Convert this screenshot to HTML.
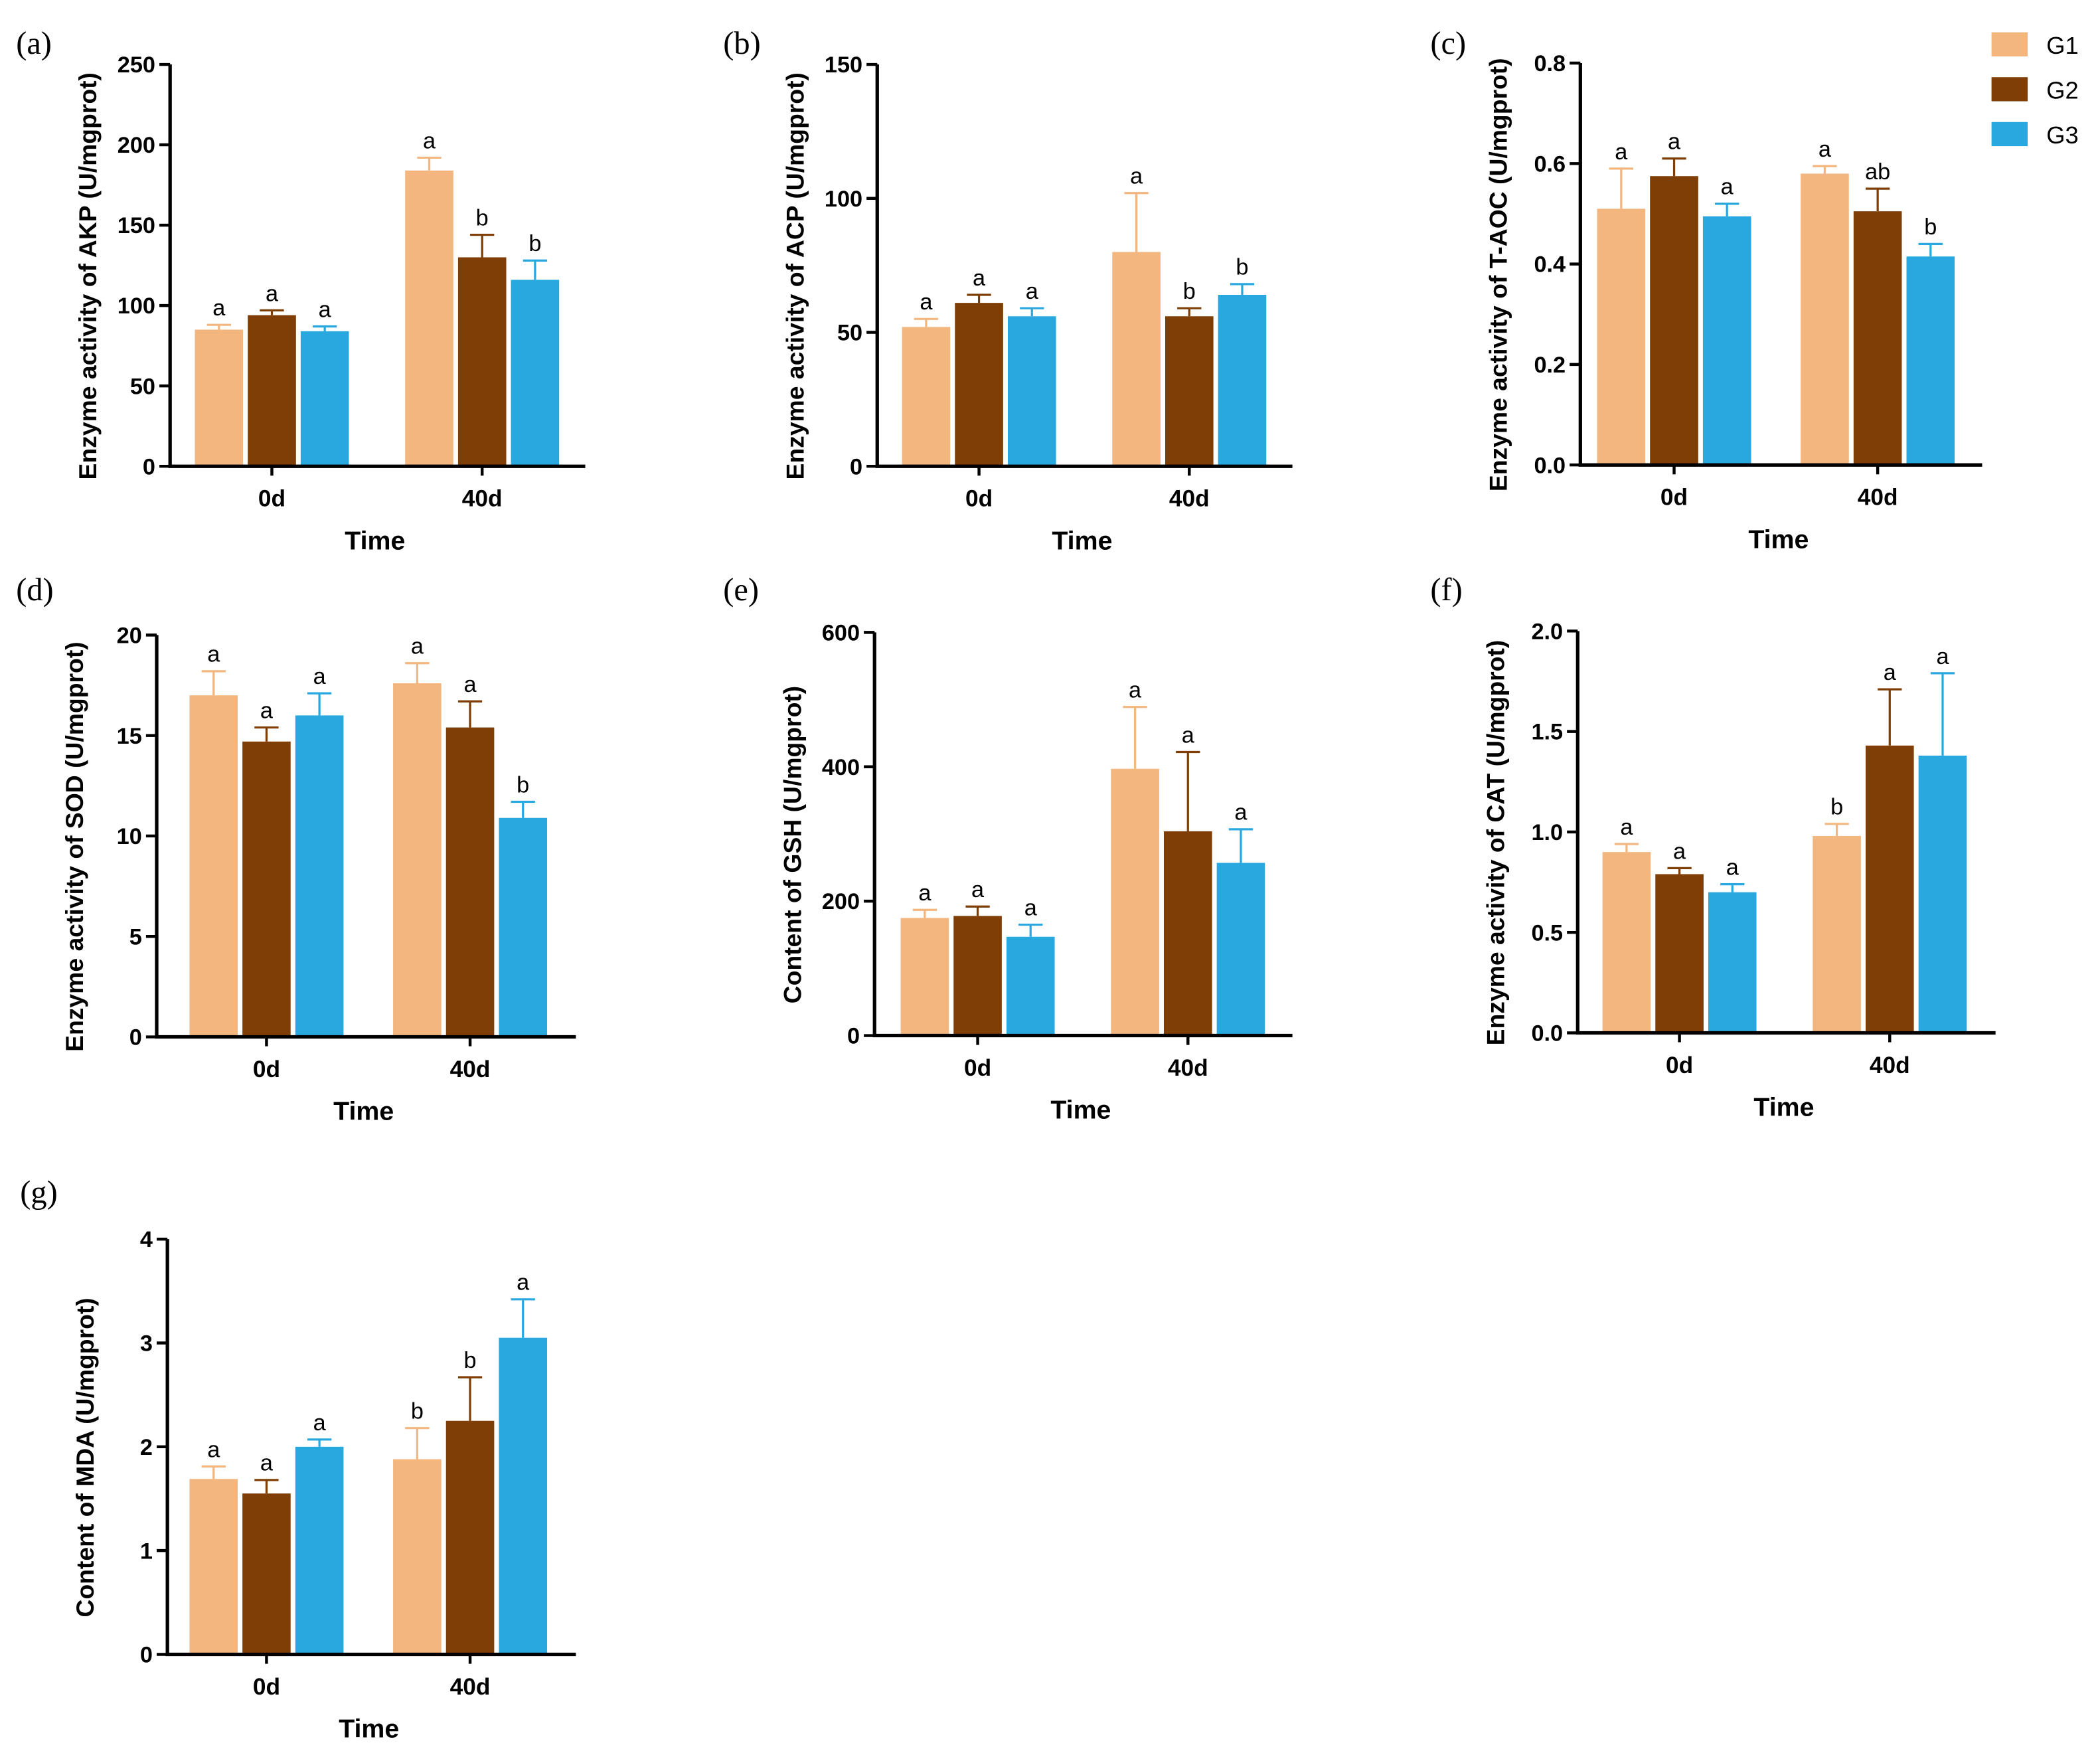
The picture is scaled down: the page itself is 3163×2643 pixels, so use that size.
<!DOCTYPE html>
<html><head><meta charset="utf-8"><style>
html,body{margin:0;padding:0;background:#fff;}
svg{display:block;}
text{font-family:"Liberation Sans",Arial,sans-serif;}
</style></head><body>
<svg id="fig" width="3163" height="2643" viewBox="0 0 1568 1310" xmlns="http://www.w3.org/2000/svg"></svg>
<script>
const categories = ["0d","40d"];
const groups = ["G1","G2","G3"];
const colors = ["#F3B67F","#7F3E06","#29A8E0"];

const valsA = [[85,94,84],[184,130,116]];
const errsA = [[3,3,3],[8,14,12]];
const letA = [["a","a","a"],["a","b","b"]];
const ticksA = [0,50,100,150,200,250];

const valsB = [[52,61,56],[80,56,64]];
const errsB = [[3,3,3],[22,3,4]];
const letB = [["a","a","a"],["a","b","b"]];
const ticksB = [0,50,100,150];

const valsC = [[0.51,0.575,0.495],[0.58,0.505,0.415]];
const errsC = [[0.08,0.035,0.025],[0.015,0.045,0.025]];
const letC = [["a","a","a"],["a","ab","b"]];
const ticksC = [0,0.2,0.4,0.6,0.8];

const valsD = [[17,14.7,16],[17.6,15.4,10.9]];
const errsD = [[1.2,0.7,1.1],[1,1.3,0.8]];
const letD = [["a","a","a"],["a","a","b"]];
const ticksD = [0,5,10,15,20];

const valsE = [[175,178,147],[397,304,257]];
const errsE = [[12,14,18],[92,118,50]];
const letE = [["a","a","a"],["a","a","a"]];
const ticksE = [0,200,400,600];

const valsF = [[0.9,0.79,0.7],[0.98,1.43,1.38]];
const errsF = [[0.04,0.03,0.04],[0.06,0.28,0.41]];
const letF = [["a","a","a"],["b","a","a"]];
const ticksF = [0,0.5,1.0,1.5,2.0];

const valsG = [[1.69,1.55,2.0],[1.88,2.25,3.05]];
const errsG = [[0.12,0.13,0.07],[0.3,0.42,0.37]];
const letG = [["a","a","a"],["b","b","a"]];
const ticksG = [0,1,2,3,4];

const NS="http://www.w3.org/2000/svg";
const svg=document.getElementById('fig');
function mk(tag,attrs,parent,txt){const e=document.createElementNS(NS,tag);for(const k in attrs)e.setAttribute(k,attrs[k]);if(txt!==undefined)e.textContent=txt;(parent||svg).appendChild(e);return e;}

function panel(id,lx,ly,ax,top,bot,xEnd,centers,ymax,ticks,dec,vals,errs,lets,title){
  const g=mk('g',{});
  
  
  const y=v=>bot-(v/ymax)*(bot-top);
  const pl=mk('text',{x:lx,y:ly,'font-size':24,style:'font-family:"Liberation Serif",serif'},g,'('+id+')');
  
  
  vals.forEach((row,ci)=>{
    row.forEach((v,gi)=>{
      const cx=centers[ci]+(gi-1)*39.5;
      const x0=cx-18, yt=y(v), ye=y(v+errs[ci][gi]);
      const r=mk('rect',{x:x0,y:yt,width:36,height:bot-yt,fill:colors[gi]},g);
      
      
      const eb=mk('path',{d:`M${cx} ${yt} V${ye} M${cx-9} ${ye} H${cx+9}`,stroke:colors[gi],'stroke-width':1.6,fill:'none'},g);
      
      
      const lt=mk('text',{x:cx,y:ye-7,'font-size':17,'text-anchor':'middle'},g,lets[ci][gi]);
      
      
    });
  });
  const axl=mk('path',{d:`M${ax} ${top} V${bot} H${xEnd}`,stroke:'#000','stroke-width':2.6,fill:'none'},g);
  
  
  ticks.forEach(t=>{
    const ty=y(t);
    const tk=mk('line',{x1:ax-8,x2:ax,y1:ty,y2:ty,stroke:'#000','stroke-width':2.2},g);
    
    
    const tl=mk('text',{x:ax-11,y:ty+6,'font-size':17,'font-weight':'bold','text-anchor':'end'},g,t.toFixed(dec));
    
    
  });
  categories.forEach((c,ci)=>{
    const tk=mk('line',{x1:centers[ci],x2:centers[ci],y1:bot,y2:bot+7,stroke:'#000','stroke-width':2.2},g);
    
    
    const cl=mk('text',{x:centers[ci],y:bot+30,'font-size':17.5,'font-weight':'bold','text-anchor':'middle'},g,c);
    
    
  });
  const xt=mk('text',{x:(ax+xEnd)/2-2,y:bot+62,'font-size':19.5,'font-weight':'bold','text-anchor':'middle'},g,'Time');
  
  
  const tx=ax-55, tyc=(top+bot)/2+8;
  const yt=mk('text',{x:tx,y:tyc,'font-size':18.5,'font-weight':'bold','text-anchor':'middle',transform:`rotate(-90 ${tx} ${tyc})`},g,title);
  
  
}

panel('a',12,40,127,48,348,437,[203,360],250,ticksA,0,valsA,errsA,letA,'Enzyme activity of AKP (U/mgprot)');
panel('b',540,40,655,48,348,965,[731,888],150,ticksB,0,valsB,errsB,letB,'Enzyme activity of ACP (U/mgprot)');
panel('c',1068,40,1180,47,347,1480,[1250,1402],0.8,ticksC,1,valsC,errsC,letC,'Enzyme activity of T-AOC (U/mgprot)');
panel('d',12,448,117,474,774,430,[199,351],20,ticksD,0,valsD,errsD,letD,'Enzyme activity of SOD (U/mgprot)');
panel('e',540,448,653,472,773,965,[730,887],600,ticksE,0,valsE,errsE,letE,'Content of GSH (U/mgprot)');
panel('f',1068,448,1178,471,771,1490,[1254,1411],2.0,ticksF,1,valsF,errsF,letF,'Enzyme activity of CAT (U/mgprot)');
panel('g',15,898,125,925,1235,430,[199,351],4,ticksG,0,valsG,errsG,letG,'Content of MDA (U/mgprot)');

const leg=mk('g',{});


groups.forEach((gname,i)=>{
  const yy=24+i*33.5;
  const r=mk('rect',{x:1487,y:yy,width:27,height:18,fill:colors[i]},leg);
  
  
  const t=mk('text',{x:1528,y:yy+16,'font-size':18},leg,gname);
  
  
});
</script>
</body></html>
